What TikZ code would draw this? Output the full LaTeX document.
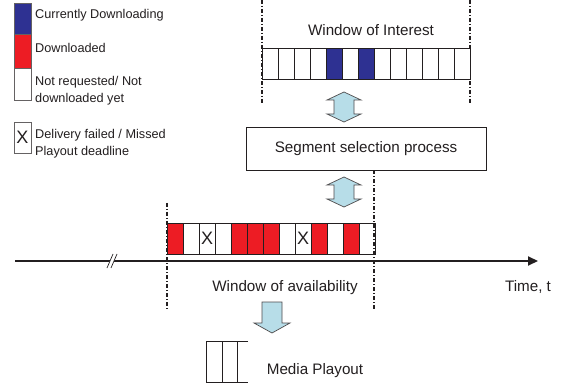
\documentclass[tikz,border=0pt]{standalone}
\usepackage{fontspec}
\setmainfont{Liberation Sans}
\usetikzlibrary{arrows.meta}

\definecolor{segblue}{RGB}{46,49,146}
\definecolor{segred}{RGB}{237,28,36}
\definecolor{flowfill}{RGB}{183,221,232}
\definecolor{ink}{RGB}{35,31,32}

\begin{document}
\begin{tikzpicture}[x=1pt,y=-1pt,
  cell/.style={draw=ink, line width=0.8pt, minimum width=16pt, minimum height=31pt,
    inner sep=0pt, outer sep=0pt, anchor=north west, font=\fontsize{18}{18}\selectfont},
  keybox/.style={draw=ink!70, line width=0.8pt, inner sep=0pt, outer sep=0pt,
    minimum width=17pt, anchor=north west},
  keytext/.style={anchor=base west, inner sep=0pt, text=ink, font=\fontsize{12.7}{15}\selectfont},
  label/.style={anchor=base, inner sep=0pt, text=ink, font=\fontsize{15.2}{18}\selectfont},
  window/.style={draw=ink, line width=1.2pt, dash pattern=on 4pt off 2pt on 1pt off 2pt},
  flow/.style={draw=ink!80, line width=0.7pt, fill=flowfill, line join=miter},
  dblarrow/.pic={\path[flow] (0,-15) -- (17,-7) -- (10,-7) -- (10,7) -- (17,7) -- (0,15)
      -- (-17,7) -- (-10,7) -- (-10,-7) -- (-17,-7) -- cycle;},
  downarrow/.pic={\path[flow] (-10,0) -- (10,0) -- (10,21) -- (18,21) -- (0,31)
      -- (-18,21) -- (-10,21) -- cycle;}
]
\useasboundingbox[fill=white] (0,0) rectangle (564,387);

% ---- legend ----
\node[keybox, fill=segblue, minimum height=31pt] (kblue) at (14,3) {};
\node[keybox, fill=segred, minimum height=34pt] (kred) at (14,34) {};
\node[keybox, fill=white, minimum height=32pt] (kwhite) at (14,68) {};
\node[keybox, fill=white, minimum height=31pt, font=\fontsize{18}{18}\selectfont, text=ink] (kx) at (14,122) {X};
\node[keytext] (t1) at (35,19) {Currently Downloading};
\node[keytext] (t2) at (35,52.4) {Downloaded};
\node[keytext] (t3) at (35,85.8) {Not requested/ Not};
\node[keytext] (t4) at (35,103) {downloaded yet};
\node[keytext] (t5) at (35,138.4) {Delivery failed / Missed};
\node[keytext] (t6) at (35,155.8) {Playout deadline};

% ---- window of interest ----
\coordinate (wiLt) at (262,0);   \coordinate (wiLb) at (262,103);
\coordinate (wiRt) at (470,0);   \coordinate (wiRb) at (470,103);
\draw[window] (wiLt) -- (wiLb);
\draw[window] (wiRt) -- (wiRb);
\node[label] (wilabel) at (371,36) {Window of Interest};
\foreach \f [count=\i] in {white,white,white,white,segblue,white,segblue,white,white,white,white,white,white}
  \node[cell, fill=\f] (top\i) at ({262+16*(\i-1)},48) {};

% ---- segment selection ----
\node[draw=ink, line width=0.8pt, minimum width=240pt, minimum height=43pt, inner sep=0pt,
  text=ink, font=\fontsize{15.2}{18}\selectfont] (sel) at (366,148.5) {Segment selection process};
\pic at (344,107) {dblarrow};
\pic at (344,192) {dblarrow};

% ---- time axis and window of availability ----
\coordinate (axL) at (15,261);
\coordinate (axR) at (538,261);
\draw[ink, line width=2pt, -{Triangle[length=10pt,width=9pt]}] (axL) -- (axR);
% axis break
\coordinate (brA) at (107,268); \coordinate (brB) at (113,254);
\coordinate (brC) at (111,268); \coordinate (brD) at (117,254);
\fill[white] (brA) -- (brB) -- (brD) -- (brC) -- cycle;
\draw[ink, line width=0.7pt] (brA) -- (brB) (brC) -- (brD);

\foreach \f/\t [count=\i] in {segred/,white/,white/X,white/,segred/,segred/,segred/,white/,white/X,segred/,white/,segred/,white/}
  \node[cell, fill=\f, text=ink] (bot\i) at ({167+16*(\i-1)},223) {\t};

\coordinate (waLt) at (167,203);  \coordinate (waLb) at (167,310);
\coordinate (waRt) at (sel.south -| 374,0); \coordinate (waRb) at (374,310);
\draw[window] (waLt) -- (waLb);
\draw[window] (waRt) -- (waRb);
\node[label] (walabel) at (285,291) {Window of availability};
\node[label] (timelabel) at (528,291) {Time, t};

% ---- playout ----
\pic at (272,302) {downarrow};
\coordinate (mpA) at (206,341); \coordinate (mpB) at (248,341);
\coordinate (mpC) at (206,382); \coordinate (mpD) at (248,382);
\draw[ink, line width=0.8pt] (mpB) -- (mpA) -- (mpC) -- (mpD)
  (222,341) -- (222,382) (237,341) -- (237,382);
\node[label] (mplabel) at (315,374) {Media Playout};
\end{tikzpicture}
\end{document}
